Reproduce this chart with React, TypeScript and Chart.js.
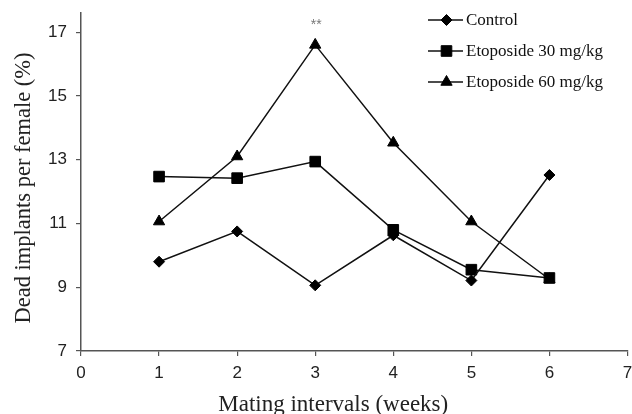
import React, { useEffect, useRef } from "react";
import { Chart, registerables } from "chart.js";
import { drawPoint } from "chart.js/helpers";

Chart.register(...registerables);

// ---- data ----
const weeks = [1, 2, 3, 4, 5, 6];
const controlValues = [9.8, 10.75, 9.06, 10.63, 9.21, 12.52];
const eto30Values = [12.47, 12.42, 12.94, 10.8, 9.55, 9.29];
const eto60Values = [11.06, 13.1, 16.6, 13.53, 11.06, 9.25];
const seriesLabels = ["Control", "Etoposide 30 mg/kg", "Etoposide 60 mg/kg"];
const eto60Marks = ["", "", "**", "", "", ""];
const xTickValues = [0, 1, 2, 3, 4, 5, 6, 7];
const yTickValues = [7, 9, 11, 13, 15, 17];
const xTitle = "Mating intervals (weeks)";
const yTitle = "Dead implants per female (%)";

const SERIF = "'Liberation Serif', 'Times New Roman', serif";
const SANS = "'Liberation Sans', Arial, sans-serif";

const legendPlugin = {
  id: "customLegend",
  afterDraw(chart: any) {
    const ctx = chart.ctx;
    const x0 = 428;
    const lineLen = 35;
    const startY = 20;
    const gap = 31;
    chart.data.datasets.forEach((ds: any, i: number) => {
      const y = startY + i * gap;
      ctx.save();
      ctx.strokeStyle = "#111";
      ctx.lineWidth = 1.5;
      ctx.beginPath();
      ctx.moveTo(x0, y);
      ctx.lineTo(x0 + lineLen, y);
      ctx.stroke();
      ctx.fillStyle = "#000";
      ctx.strokeStyle = "#000";
      ctx.lineWidth = 1;
      drawPoint(ctx, { pointStyle: ds.pointStyle, radius: ds.pointRadius, borderWidth: 1, rotation: 0 } as any, x0 + lineLen / 2 + 1, y);
      ctx.font = `17px ${SERIF}`;
      ctx.textBaseline = "middle";
      ctx.textAlign = "left";
      ctx.fillStyle = "#111";
      ctx.fillText(ds.label, x0 + lineLen + 3, y + 1);
      ctx.restore();
    });
  },
};

const annotationPlugin = {
  id: "sigMarks",
  afterDatasetsDraw(chart: any) {
    const ctx = chart.ctx;
    const meta = chart.getDatasetMeta(2);
    ctx.save();
    ctx.font = `14px ${SANS}`;
    ctx.fillStyle = "#777";
    ctx.textAlign = "center";
    ctx.textBaseline = "middle";
    eto60Marks.forEach((m, i) => {
      if (!m) return;
      const pt = meta.data[i];
      ctx.fillText(m, pt.x + 1, pt.y - 20);
    });
    ctx.restore();
  },
};

const titlePlugin = {
  id: "axisTitles",
  afterDraw(chart: any) {
    const ctx = chart.ctx;
    const area = chart.chartArea;
    ctx.save();
    ctx.fillStyle = "#222";
    ctx.textAlign = "center";
    ctx.textBaseline = "alphabetic";
    ctx.font = `23px ${SERIF}`;
    ctx.fillText(xTitle, (area.left + area.right) / 2 - 21, 411);
    ctx.font = `22.5px ${SERIF}`;
    ctx.translate(30, (area.top + area.bottom) / 2 + 6);
    ctx.rotate(-Math.PI / 2);
    ctx.fillText(yTitle, 0, 0);
    ctx.restore();
  },
};

function makeData(values: number[]) {
  return weeks.map((w, i) => ({ x: w, y: values[i] }));
}

const zeroPadding = () => ({ left: 0, top: 0, right: 0, bottom: 0 });

export default function App() {
  const canvasRef = useRef<HTMLCanvasElement | null>(null);

  useEffect(() => {
    if (!canvasRef.current) return;
    const common = {
      borderColor: "#111",
      borderWidth: 1.5,
      backgroundColor: "#000",
      pointBackgroundColor: "#000",
      pointBorderColor: "#000",
      pointBorderWidth: 1,
      showLine: true,
      tension: 0,
    };
    const chart = new Chart(canvasRef.current, {
      type: "line",
      data: {
        datasets: [
          { ...common, label: seriesLabels[0], data: makeData(controlValues), pointStyle: "rectRot", pointRadius: 5.5 },
          { ...common, label: seriesLabels[1], data: makeData(eto30Values), pointStyle: "rect", pointRadius: 7.5 },
          { ...common, label: seriesLabels[2], data: makeData(eto60Values), pointStyle: "triangle", pointRadius: 6.5 },
        ],
      },
      options: {
        animation: false,
        responsive: false,
        devicePixelRatio: 1,
        layout: { autoPadding: false, padding: { top: 13, right: 4.5, left: 0, bottom: 0 } },
        plugins: {
          legend: { display: false },
          tooltip: { enabled: false },
        },
        scales: {
          x: {
            type: "linear",
            min: 0,
            max: 7,
            afterBuildTicks: (s: any) => {
              s.ticks = xTickValues.map((v) => ({ value: v }));
            },
            afterFit: (s: any) => {
              s.height = 63;
              s.paddingLeft = 0;
              s.paddingRight = 0;
              s.getPadding = zeroPadding;
            },
            grid: { display: true, drawOnChartArea: false, drawTicks: true, tickLength: 5, color: "#555", lineWidth: 1.2 },
            border: { display: true, color: "#555", width: 1.5 },
            ticks: { font: { family: SANS, size: 17 }, color: "#222", padding: 7, maxRotation: 0, autoSkip: false },
            title: { display: false },
          },
          y: {
            type: "linear",
            min: 7,
            max: 17.6,
            afterBuildTicks: (s: any) => {
              s.ticks = yTickValues.map((v) => ({ value: v }));
            },
            afterFit: (s: any) => {
              s.width = 81;
              s.paddingTop = 0;
              s.paddingBottom = 0;
              s.getPadding = zeroPadding;
            },
            grid: { display: true, drawOnChartArea: false, drawTicks: true, tickLength: 5, color: "#555", lineWidth: 1.2 },
            border: { display: true, color: "#555", width: 1.5 },
            ticks: { font: { family: SANS, size: 17 }, color: "#222", padding: 9, autoSkip: false },
            title: { display: false },
          },
        },
      } as any,
      plugins: [legendPlugin, annotationPlugin, titlePlugin],
    });
    return () => chart.destroy();
  }, []);

  return (
    <div style={{ position: "fixed", left: 0, top: 0, width: 632, height: 414, background: "#fff" }}>
      <canvas ref={canvasRef} width={632} height={414} />
    </div>
  );
}
